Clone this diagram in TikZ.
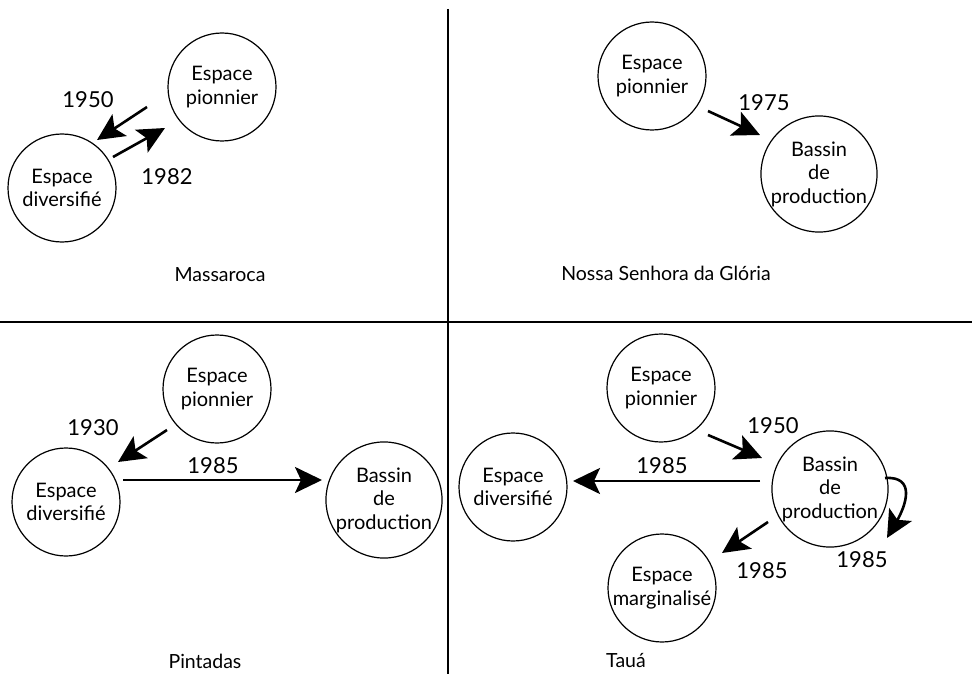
\documentclass[tikz,border=0pt]{standalone}
\usepackage{fontspec}
\setmainfont{Lato}
\usetikzlibrary{arrows.meta,calc}
\tikzset{
  etat/.style={circle,draw,line width=1.2pt,minimum size=108pt,inner sep=0pt,align=center,
    font=\fontsize{20}{23.5}\selectfont},
  annee/.style={font=\fontsize{22}{25}\selectfont},
  lieu/.style={font=\fontsize{19.5}{22}\selectfont},
  fleche/.style={line width=2.6pt,-{Stealth[length=27pt,width=26pt,inset=6pt]}},
  cadre/.style={line width=1.4pt}
}
\begin{document}
\begin{tikzpicture}[x=1pt,y=-1pt]
\useasboundingbox (0,0) rectangle (972,674);
% dividers
\coordinate (hL) at (0,322);
\coordinate (hR) at (972,322);
\coordinate (vT) at (448,9);
\coordinate (vB) at (448,674);
\draw[cadre] (hL) -- (hR);
\draw[cadre] (vT) -- (vB);

% ---- Massaroca ----
\node[etat] (pionA) at (222,87) {Espace\\pionnier};
\node[etat] (divA) at (62,188) {Espace\\diversifié};
\draw[fleche] ($(pionA.center)+(-75,20)$) -- ($(divA.center)+(35,-48)$);
\draw[fleche] ($(divA.center)+(51,-31)$) -- ($(pionA.center)+(-57,41)$);
\node[annee] (yA1) at (88,100) {1950};
\node[annee] (yA2) at (167,177) {1982};
\node[lieu] (lA) at (220,275) {Massaroca};

% ---- Nossa Senhora da Gloria ----
\node[etat] (pionB) at (652,76) {Espace\\pionnier};
\node[etat] (bassB) at (819,174) {Bassin\\de\\production};
\draw[fleche] ($(pionB.center)+(56,35)$) -- ($(bassB.center)+(-59,-39)$);
\node[annee] (yB1) at (764,103) {1975};
\node[lieu] (lB) at (666,273) {Nossa Senhora da Glória};

% ---- Pintadas ----
\node[etat] (pionC) at (217,389) {Espace\\pionnier};
\node[etat] (divC) at (66,502) {Espace\\diversifié};
\node[etat] (bassC) at (384,500) {Bassin\\de\\production};
\draw[fleche] ($(pionC.center)+(-50,41)$) -- ($(divC.center)+(52,-40)$);
\draw[fleche] ($(divC.center)+(57,-22)$) -- ($(bassC.center)+(-62,-20)$);
\node[annee] (yC1) at (93,428) {1930};
\node[annee] (yC2) at (213,466) {1985};
\node[lieu] (lC) at (205,661) {Pintadas};

% ---- Taua ----
\node[etat] (pionD) at (661,388) {Espace\\pionnier};
\node[etat] (divD) at (513,487) {Espace\\diversifié};
\node[etat] (bassD) at (830,489) {Bassin\\de\\production};
\node[etat] (margD) at (662,588) {Espace\\marginalisé};
\draw[fleche] ($(pionD.center)+(47,47)$) -- ($(bassD.center)+(-68,-31)$);
\draw[fleche] ($(bassD.center)+(-70,-8)$) -- ($(divD.center)+(60,-6)$);
\draw[fleche] ($(bassD.center)+(-62,33)$) -- ($(margD.center)+(60,-35)$);
\draw[fleche] ($(bassD.center)+(55,-11)$) .. controls ($(bassD.center)+(86,-13)$) and ($(bassD.center)+(76,16)$) .. ($(bassD.center)+(57,49)$);
\node[annee] (yD1) at (773,426) {1950};
\node[annee] (yD2) at (662,466) {1985};
\node[annee] (yD3) at (762,571) {1985};
\node[annee] (yD4) at (862,560) {1985};
\node[lieu] (lD) at (626,661) {Tauá};
\end{tikzpicture}
\end{document}
